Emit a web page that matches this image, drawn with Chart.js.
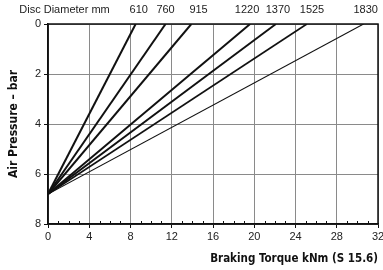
<!DOCTYPE html>
<html>
<head>
<meta charset="utf-8">
<script src="https://cdn.jsdelivr.net/npm/chart.js@4/dist/chart.umd.min.js"></script>
<style>
  html, body { margin: 0; padding: 0; background: #fff; }
  #wrap { width: 383px; height: 270px; }
</style>
</head>
<body>
<div id="wrap"><canvas id="TorqueChart"></canvas></div>
<script>
// disc sizes and where each line meets 0 bar
var diameters = ['610', '760', '915', '1220', '1370', '1525', '1830'];
var torqueAtZero = [8.5, 11.4, 13.9, 19.6, 22.1, 25.1, 30.6];
var labelAt = [8.8, 11.4, 14.6, 19.3, 22.3, 25.6, 30.8];
var startPressure = 6.8;
var lineWidths = [2, 2, 2, 2, 1.9, 1.7, 1.1];

var xTicks = [0, 4, 8, 12, 16, 20, 24, 28, 32];
var yTicks = [0, 2, 4, 6, 8];
var minorTicks = [1, 2, 3, 5, 6, 7, 9, 10, 11, 13, 14, 15, 17, 18, 19, 21, 22, 23, 25, 26, 27, 29, 30, 31];

var fontFam = "'Liberation Sans Narrow', 'Arial Narrow', Arial, sans-serif";
var titleFam = "'DejaVu Sans Condensed', 'Liberation Sans Narrow', Arial, sans-serif";

drawTorqueChart();
function drawTorqueChart() {
    var ctx = document.getElementById('TorqueChart');

    var datasets = diameters.map(function (d, i) {
        return {
            label: d,
            data: [{ x: 0, y: startPressure }, { x: torqueAtZero[i], y: 0 }],
            showLine: true,
            borderColor: '#111',
            borderWidth: lineWidths[i],
            pointRadius: 0,
            fill: false
        };
    });

    // top labels, incl. the caption
    var topLabels = [{ value: 1.6, label: 'Disc Diameter mm' }].concat(
        diameters.map(function (d, i) { return { value: labelAt[i], label: d }; })
    );

    var noPad = function (s) { s.paddingLeft = 0; s.paddingRight = 0; };

    var frame = {
        id: 'frame',
        afterDraw: function (chart) {
            var c = chart.ctx, a = chart.chartArea;
            var xs = chart.scales.x;
            c.save();
            c.strokeStyle = '#111';
            c.lineWidth = 1.5;
            c.strokeRect(a.left, a.top, a.right - a.left, a.bottom - a.top);
            // minor ticks on bottom axis
            c.lineWidth = 1;
            minorTicks.forEach(function (v) {
                var px = Math.round(xs.getPixelForValue(v)) + 0.5;
                c.beginPath();
                c.moveTo(px, a.bottom);
                c.lineTo(px, a.bottom - 3);
                c.stroke();
            });
            c.restore();
        }
    };

    var config = {
        type: 'scatter',
        data: { datasets: datasets },
        options: {
            responsive: true,
            maintainAspectRatio: false,
            animation: false,
            layout: { padding: { left: 0, right: 5, top: 0, bottom: 0 } },
            plugins: {
                legend: { display: false },
                tooltip: { enabled: false }
            },
            scales: {
                x: {
                    type: 'linear',
                    position: 'bottom',
                    min: 0,
                    max: 32,
                    afterBuildTicks: function (s) { s.ticks = xTicks.map(function (v) { return { value: v }; }); },
                    afterFit: function (s) { s.height = 46; noPad(s); },
                    grid: { color: '#8a8a8a', lineWidth: 1, tickLength: 4, tickColor: '#111' },
                    border: { color: '#111', width: 1.5 },
                    ticks: { color: '#222', font: { family: fontFam, size: 11 }, padding: 2, maxRotation: 0 },
                    title: {
                        display: true,
                        text: 'Braking Torque kNm (S 15.6)',
                        align: 'end',
                        color: '#111',
                        font: { family: titleFam, size: 11.5, weight: 'bold' },
                        padding: { top: 6 }
                    }
                },
                x2: {
                    type: 'linear',
                    position: 'top',
                    min: 0,
                    max: 32,
                    afterBuildTicks: function (s) { s.ticks = topLabels.map(function (t) { return { value: t.value }; }); },
                    afterFit: function (s) { s.height = 24; noPad(s); },
                    grid: { display: false, drawTicks: false },
                    border: { display: false },
                    ticks: {
                        color: '#222',
                        font: { family: fontFam, size: 11 },
                        padding: 7,
                        maxRotation: 0,
                        autoSkip: false,
                        callback: function (v, i) { return topLabels[i].label; }
                    }
                },
                y: {
                    type: 'linear',
                    reverse: true,
                    min: 0,
                    max: 8,
                    afterBuildTicks: function (s) { s.ticks = yTicks.map(function (v) { return { value: v }; }); },
                    afterFit: function (s) { s.width = 48; },
                    grid: { color: '#8a8a8a', lineWidth: 1, tickLength: 4, tickColor: '#111' },
                    border: { color: '#111', width: 1.5 },
                    ticks: { color: '#222', font: { family: fontFam, size: 11 }, padding: 3 },
                    title: {
                        display: true,
                        text: 'Air Pressure \u2013 bar',
                        color: '#111',
                        font: { family: titleFam, size: 12, weight: 'bold' },
                        padding: { top: 7, bottom: 2 }
                    }
                }
            }
        },
        plugins: [frame]
    };

    var myChart = new Chart(ctx, config);
}
</script>
</body>
</html>
